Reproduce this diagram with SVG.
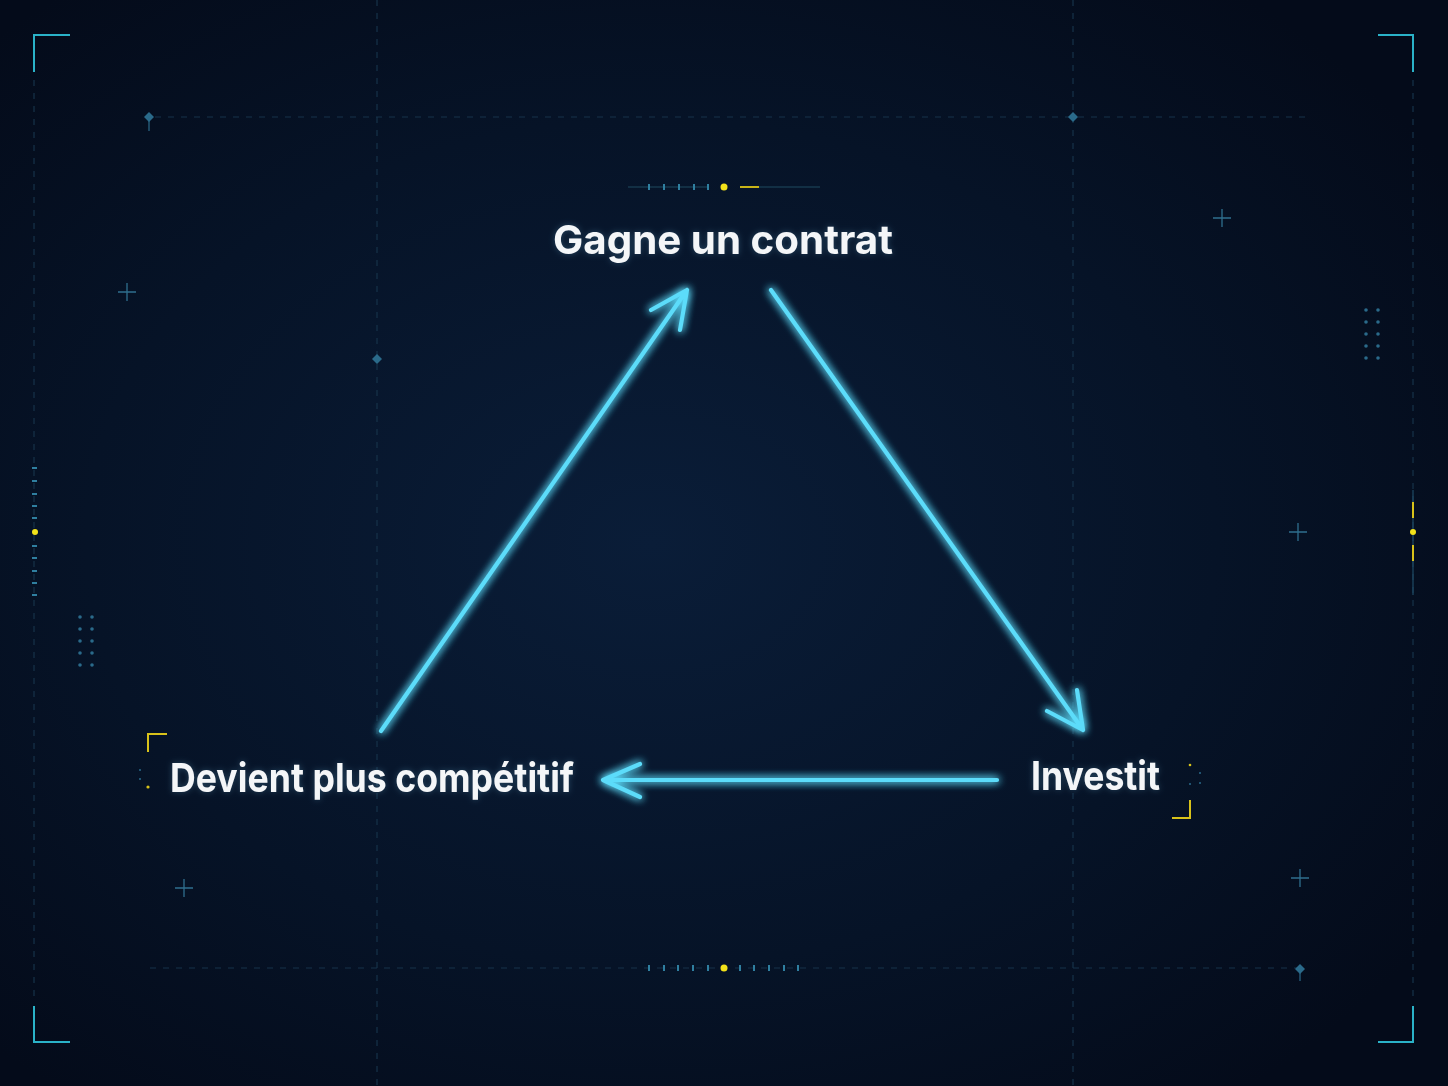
<svg xmlns="http://www.w3.org/2000/svg" width="1448" height="1086" viewBox="0 0 1448 1086">
<defs>
<radialGradient id="bg" cx="0.45" cy="0.5" r="0.65">
<stop offset="0" stop-color="#0a1d38"/>
<stop offset="0.6" stop-color="#061327"/>
<stop offset="1" stop-color="#040b1a"/>
</radialGradient>
<filter id="glow" x="-20%" y="-20%" width="140%" height="140%">
<feGaussianBlur in="SourceGraphic" stdDeviation="4" result="b"/>
<feMerge><feMergeNode in="b"/><feMergeNode in="b"/><feMergeNode in="SourceGraphic"/></feMerge>
</filter>
<filter id="tglow" x="-10%" y="-30%" width="120%" height="160%">
<feGaussianBlur in="SourceAlpha" stdDeviation="3" result="b"/>
<feFlood flood-color="#7fd8ff" flood-opacity="0.25"/>
<feComposite in2="b" operator="in" result="g"/>
<feMerge><feMergeNode in="g"/><feMergeNode in="SourceGraphic"/></feMerge>
</filter>
<g id="diamond"><path d="M0,-5 L5,0 L0,5 L-5,0 Z" fill="#2a6a8a"/></g>
<g id="plus"><path d="M-9,0 H9 M0,-9 V9" stroke="#2f6f8e" stroke-width="1.3"/></g>
</defs>
<style>
.grid{stroke:#17324a;stroke-width:1.2;stroke-dasharray:6 7;fill:none}
.corner{stroke:#2ab2c8;stroke-width:2;fill:none}
.tick{stroke:#2f7fa0;stroke-width:2}
.ytick{stroke:#d8c21a;stroke-width:2}
.dot{fill:#2a6a8a}
.yel{fill:#f2e21a}
.arrow{stroke:#5cdcfa;stroke-width:4.2;fill:none;stroke-linecap:round;stroke-linejoin:round}
.lbl{font-family:Inter,"Liberation Sans",sans-serif;font-weight:700;font-size:40px;fill:#f4f6f8}
</style>
<rect width="1448" height="1086" fill="url(#bg)"/>

<g id="background-grid">
<line class="grid" x1="34" y1="80" x2="34" y2="1000"/>
<line class="grid" x1="1413" y1="80" x2="1413" y2="1000"/>
<line class="grid" x1="377" y1="0" x2="377" y2="1086"/>
<line class="grid" x1="1073" y1="0" x2="1073" y2="1086"/>
<line class="grid" x1="155" y1="117" x2="1310" y2="117"/>
<line class="grid" x1="150" y1="968" x2="1300" y2="968"/>
<use href="#diamond" x="149" y="117"/>
<line x1="149" y1="117" x2="149" y2="131" stroke="#2a6a8a" stroke-width="1.2"/>
<use href="#diamond" x="1073" y="117"/>
<use href="#diamond" x="377" y="359"/>
<use href="#diamond" x="1300" y="969"/>
<line x1="1300" y1="969" x2="1300" y2="981" stroke="#2a6a8a" stroke-width="1.2"/>
<use href="#plus" x="127" y="292"/>
<use href="#plus" x="1222" y="218"/>
<use href="#plus" x="1298" y="532"/>
<use href="#plus" x="184" y="888"/>
<use href="#plus" x="1300" y="878"/>
</g>

<g id="corners">
<path class="corner" d="M34,72 V35 H70"/>
<path class="corner" d="M1378,35 H1413 V72"/>
<path class="corner" d="M34,1006 V1042 H70"/>
<path class="corner" d="M1378,1042 H1413 V1006"/>
</g>

<g id="dot-grids">
<circle class="dot" cx="80" cy="617" r="1.8"/><circle class="dot" cx="92" cy="617" r="1.8"/>
<circle class="dot" cx="80" cy="629" r="1.8"/><circle class="dot" cx="92" cy="629" r="1.8"/>
<circle class="dot" cx="80" cy="641" r="1.8"/><circle class="dot" cx="92" cy="641" r="1.8"/>
<circle class="dot" cx="80" cy="653" r="1.8"/><circle class="dot" cx="92" cy="653" r="1.8"/>
<circle class="dot" cx="80" cy="665" r="1.8"/><circle class="dot" cx="92" cy="665" r="1.8"/>
<circle class="dot" cx="1366" cy="310" r="1.8"/><circle class="dot" cx="1378" cy="310" r="1.8"/>
<circle class="dot" cx="1366" cy="322" r="1.8"/><circle class="dot" cx="1378" cy="322" r="1.8"/>
<circle class="dot" cx="1366" cy="334" r="1.8"/><circle class="dot" cx="1378" cy="334" r="1.8"/>
<circle class="dot" cx="1366" cy="346" r="1.8"/><circle class="dot" cx="1378" cy="346" r="1.8"/>
<circle class="dot" cx="1366" cy="358" r="1.8"/><circle class="dot" cx="1378" cy="358" r="1.8"/>
</g>

<g id="side-markers">
<path class="tick" d="M32,468h5M32,481h5M32,494h5M32,506h5M32,518h5M32,546h5M32,558h5M32,571h5M32,583h5M32,595h5"/>
<circle class="yel" cx="35" cy="532" r="3"/>
<line x1="1413" y1="490" x2="1413" y2="595" stroke="#1e4a66" stroke-width="1.2"/>
<path class="ytick" d="M1413,502V518M1413,545V561"/>
<circle class="yel" cx="1413" cy="532" r="3"/>
</g>

<g id="top-marker">
<line x1="628" y1="187" x2="708" y2="187" stroke="#17384e" stroke-width="1.5"/>
<path class="tick" d="M649,184v6M664,184v6M679,184v6M694,184v6M708,184v6"/>
<circle class="yel" cx="724" cy="187" r="3.5"/>
<line x1="740" y1="187" x2="759" y2="187" stroke="#c8b418" stroke-width="2"/>
<line x1="759" y1="187" x2="820" y2="187" stroke="#17384e" stroke-width="1.5"/>
</g>

<g id="bottom-marker">
<path class="tick" d="M649,965v6M664,965v6M678,965v6M693,965v6M708,965v6M740,965v6M754,965v6M769,965v6M784,965v6M798,965v6"/>
<circle class="yel" cx="724" cy="968" r="3.5"/>
</g>

<g id="connectors" filter="url(#glow)">
<path class="arrow" d="M381,731 L687,290 M651,310 L687,290 L680,330"/>
<path class="arrow" d="M771,290 L1083,730 M1047,711 L1083,730 L1077,690"/>
<path class="arrow" d="M997,780 L603,780 M640,764 L603,780 L640,797"/>
</g>

<g id="node-top">
<text class="lbl" x="553" y="254" textLength="340" lengthAdjust="spacingAndGlyphs" filter="url(#tglow)">Gagne un contrat</text>
</g>

<g id="node-left">
<path d="M148,752 V734 H167" stroke="#d8c21a" stroke-width="2" fill="none"/>
<circle cx="140" cy="770" r="1" fill="#2a6a8a"/>
<circle cx="140" cy="779" r="1" fill="#2a6a8a"/>
<circle cx="148" cy="787" r="1.6" fill="#d8c21a"/>
<text class="lbl" x="170" y="792" textLength="404" lengthAdjust="spacingAndGlyphs" filter="url(#tglow)">Devient plus compétitif</text>
</g>

<g id="node-right">
<path d="M1172,818 H1190 V800" stroke="#d8c21a" stroke-width="2" fill="none"/>
<circle cx="1190" cy="765" r="1.3" fill="#d8c21a"/>
<circle cx="1200" cy="773" r="1" fill="#2a6a8a"/>
<circle cx="1200" cy="783" r="1" fill="#2a6a8a"/>
<circle cx="1190" cy="784" r="1" fill="#2a6a8a"/>
<text class="lbl" x="1031" y="790" textLength="129" lengthAdjust="spacingAndGlyphs" filter="url(#tglow)">Investit</text>
</g>
</svg>
